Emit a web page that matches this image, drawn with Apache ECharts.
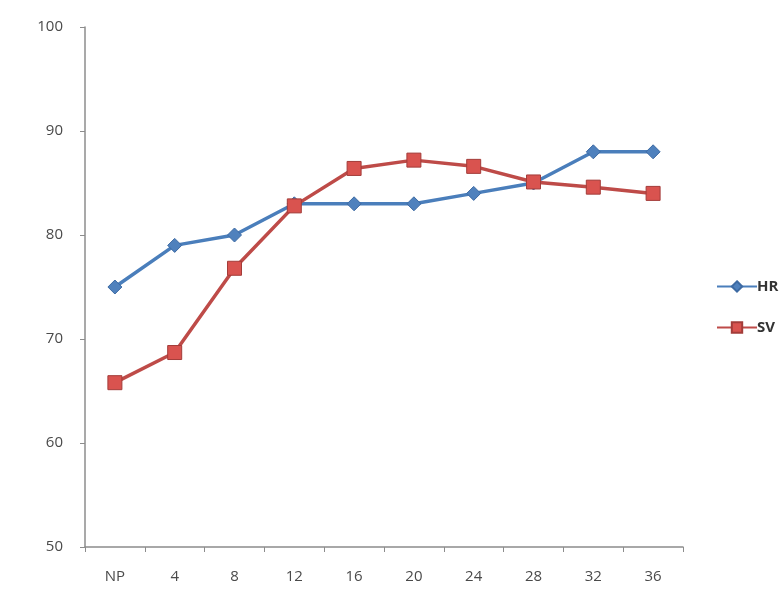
<!DOCTYPE html>
<html>
<head>
<meta charset="utf-8">
<script src="https://cdn.jsdelivr.net/npm/echarts@6/dist/echarts.min.js"></script>
<style>
  html, body { margin: 0; padding: 0; background: #ffffff; }
  #chart { width: 783px; height: 591px; }
</style>
</head>
<body>
<div id="chart"></div>
<script>
// Time points along the x axis
const categories = ['NP', '4', '8', '12', '16', '20', '24', '28', '32', '36'];
// Series values
const hrValues = [75, 79, 80, 83, 83, 83, 84, 85, 88, 88];
const svValues = [65.8, 68.7, 76.8, 82.8, 86.4, 87.2, 86.6, 85.1, 84.6, 84.0];
const seriesNames = ['HR', 'SV'];

const axisFont = { fontFamily: 'Open Sans, Liberation Sans, sans-serif', fontSize: 15, color: '#4a4a4a' };

const chart = echarts.init(document.getElementById('chart'), null, { renderer: 'canvas' });
chart.setOption({
  animation: false,
  backgroundColor: '#ffffff',
  grid: { left: 85, right: 100, top: 27, bottom: 44, containLabel: false },
  legend: {
    orient: 'vertical',
    left: 711,
    top: 274,
    itemWidth: 40,
    itemHeight: 13,
    itemGap: 26,
    textStyle: { fontFamily: 'Open Sans, Liberation Sans, sans-serif', fontSize: 15, fontWeight: 'bold', color: '#333333', padding: [0, 0, 0, -5] },
    data: seriesNames
  },
  xAxis: {
    type: 'category',
    data: categories,
    boundaryGap: true,
    axisLine: { lineStyle: { color: '#8c8c8c', width: 1.5 } },
    axisTick: { show: true, length: 5, lineStyle: { color: '#8c8c8c' } },
    axisLabel: Object.assign({ margin: 22 }, axisFont),
    splitLine: { show: false }
  },
  yAxis: {
    type: 'value',
    min: 50,
    max: 100,
    interval: 10,
    axisLine: { show: true, lineStyle: { color: '#8c8c8c', width: 1.5 } },
    axisTick: { show: true, length: 5, lineStyle: { color: '#8c8c8c' } },
    axisLabel: Object.assign({ margin: 22 }, axisFont),
    splitLine: { show: false }
  },
  series: [
    {
      name: seriesNames[0],
      type: 'line',
      data: hrValues,
      symbol: 'diamond',
      symbolSize: 14,
      lineStyle: { color: '#4a7ebb', width: 3.5 },
      itemStyle: { color: '#4f81bd', borderColor: '#3d6aa3', borderWidth: 1 },
      z: 2
    },
    {
      name: seriesNames[1],
      type: 'line',
      data: svValues,
      symbol: 'rect',
      symbolSize: 14,
      lineStyle: { color: '#be4b48', width: 3.5 },
      itemStyle: { color: '#d9534f', borderColor: '#a33c39', borderWidth: 1 },
      z: 3
    }
  ]
});
</script>
</body>
</html>
